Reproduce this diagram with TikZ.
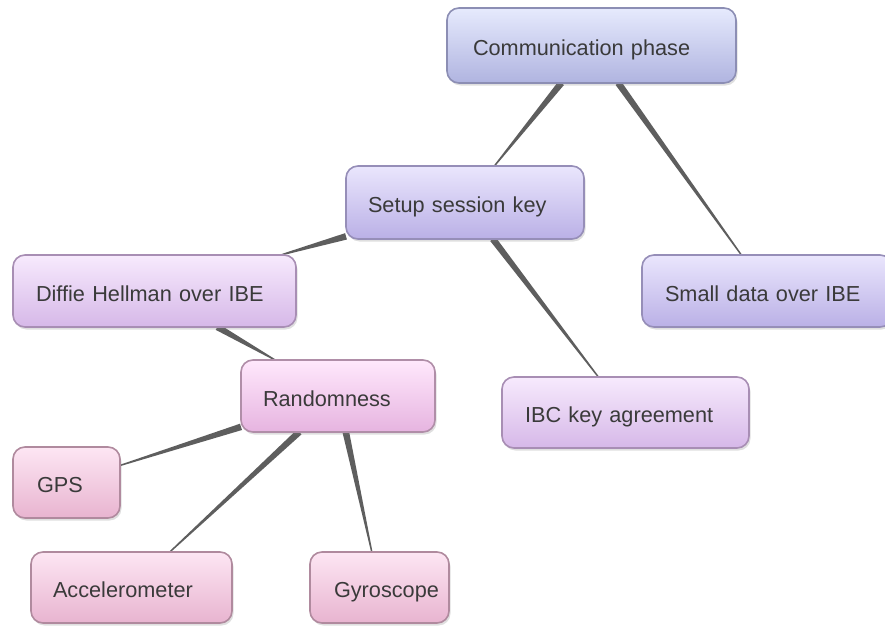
\documentclass[tikz,border=0pt]{standalone}
\usepackage{fontspec}
\setmainfont{Liberation Sans}
\usetikzlibrary{calc,shadows,backgrounds}
\definecolor{txt}{HTML}{3A3A3A}
\definecolor{edgec}{HTML}{5E5E5E}
\tikzset{
  box/.style={rounded corners=12pt, line width=1.6pt, anchor=north west,
    font=\fontsize{21.7pt}{24pt}\selectfont, text=txt, align=left,
    inner ysep=0pt, outer sep=0pt, text height=20pt, text depth=0pt,
    drop shadow={opacity=0.25, shadow xshift=1.5pt, shadow yshift=-2.5pt}},
  cA/.style={box, draw={rgb,255:red,140;green,142;blue,180},
    top color={rgb,255:red,230;green,234;blue,253},
    bottom color={rgb,255:red,176;green,180;blue,224}},
  cB/.style={box, draw={rgb,255:red,150;green,142;blue,184},
    top color={rgb,255:red,234;green,230;blue,253},
    bottom color={rgb,255:red,186;green,176;blue,230}},
  cC/.style={box, draw={rgb,255:red,168;green,142;blue,180},
    top color={rgb,255:red,247;green,234;blue,253},
    bottom color={rgb,255:red,214;green,184;blue,232}},
  cD/.style={box, draw={rgb,255:red,176;green,142;blue,168},
    top color={rgb,255:red,255;green,232;blue,252},
    bottom color={rgb,255:red,230;green,180;blue,224}},
  cE/.style={box, draw={rgb,255:red,176;green,138;blue,158},
    top color={rgb,255:red,253;green,230;blue,243},
    bottom color={rgb,255:red,232;green,180;blue,208}},
}
\newcommand\taper[2]{%
  \path (#1) -- (#2) coordinate[pos=0] (ta) coordinate[pos=1] (tb);
  \fill[edgec] ($(ta)!3.3pt!90:(tb)$) -- ($(ta)!3.3pt!-90:(tb)$)
    -- ($(tb)!0.7pt!90:(ta)$) -- ($(tb)!0.7pt!-90:(ta)$) -- cycle;
}
\begin{document}
\begin{tikzpicture}[x=1pt,y=-1pt]
\useasboundingbox (0,0) rectangle (885,626);
\node[cA, minimum width=289pt, minimum height=75pt, inner xsep=26pt, text width=237pt] (comm) at (447,8) {Communication phase};
\node[cB, minimum width=238pt, minimum height=73pt, inner xsep=22pt, text width=194pt] (setup) at (346,166) {Setup session key};
\node[cB, minimum width=250pt, minimum height=72pt, inner xsep=23pt, text width=204pt] (small) at (642,255) {Small data over IBE};
\node[cC, minimum width=283pt, minimum height=72pt, inner xsep=23pt, text width=237pt] (diffie) at (13,255) {Diffie Hellman over IBE};
\node[cC, minimum width=247pt, minimum height=71pt, inner xsep=23pt, text width=201pt] (ibc) at (502,377) {IBC key agreement};
\node[cD, minimum width=194pt, minimum height=72pt, inner xsep=22pt, text width=150pt] (rand) at (241,360) {Randomness};
\node[cE, minimum width=107pt, minimum height=71pt, inner xsep=24pt, text width=59pt] (gps) at (13,447) {GPS};
\node[cE, minimum width=201pt, minimum height=71pt, inner xsep=22pt, text width=157pt] (acc) at (31,552) {Accelerometer};
\node[cE, minimum width=139pt, minimum height=71pt, inner xsep=24pt, text width=91pt] (gyro) at (310,552) {Gyroscope};
\begin{scope}[on background layer]
\fill[white] (0,0) rectangle (885,626);
\taper{comm}{setup}
\taper{comm}{small}
\taper{setup}{diffie}
\taper{setup}{ibc}
\taper{diffie}{rand}
\taper{rand}{gps}
\taper{rand}{acc}
\taper{rand}{gyro}
\end{scope}
\end{tikzpicture}
\end{document}
